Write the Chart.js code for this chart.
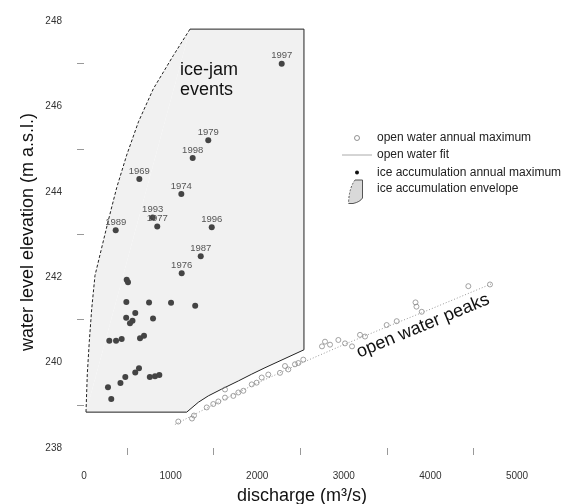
<!DOCTYPE html>
<html>
<head>
<meta charset="utf-8">
<script src="https://cdn.jsdelivr.net/npm/chart.js@4.4.0/dist/chart.umd.min.js"></script>
<style>
  body { margin: 0; background: #fff; }
  canvas { display: block; }
</style>
</head>
<body>
<canvas id="chart" width="564" height="504"></canvas>
<script>
// tick labels (unlabelled tick marks sit halfway between them)
const xLabelValues = [0, 1000, 2000, 3000, 4000, 5000];
const yLabelValues = [238, 240, 242, 244, 246, 248];

// ice accumulation annual maximum
const iceX = [2283, 1435, 1255, 639, 1124, 793, 846, 366, 1475, 1348, 1128,
  493, 508, 489, 751, 1005, 1284, 592, 487, 560, 531, 797,
  292, 370, 435, 647, 693, 635, 592, 477, 421, 277, 315, 760, 820, 870];
const iceY = [247.0, 245.21, 244.79, 244.30, 243.95, 243.40, 243.19, 243.10, 243.17, 242.49, 242.09,
  241.94, 241.88, 241.42, 241.41, 241.40, 241.33, 241.16, 241.05, 240.98, 240.92, 241.03,
  240.51, 240.51, 240.55, 240.57, 240.63, 239.87, 239.77, 239.66, 239.52, 239.42, 239.15, 239.66, 239.68, 239.71];
const iceYears = ['1997', '1979', '1998', '1969', '1974', '1993', '1977', '1989', '1996', '1987', '1976'];

// open water annual maximum
const openX = [1089, 1247, 1270, 1417, 1493, 1551, 1628, 1628, 1724, 1782, 1840, 1937, 1994, 2052,
  2128, 2263, 2321, 2359, 2436, 2475, 2532, 2748, 2783, 2841, 2937, 3014, 3095, 3187, 3245,
  3495, 3611, 3828, 3839, 3900, 4438, 4688];
const openY = [238.62, 238.69, 238.76, 238.95, 239.03, 239.09, 239.37, 239.18, 239.22, 239.30, 239.34,
  239.49, 239.53, 239.65, 239.72, 239.76, 239.92, 239.84, 239.96, 239.99, 240.07, 240.38, 240.49,
  240.42, 240.53, 240.45, 240.38, 240.65, 240.61, 240.88, 240.97, 241.41, 241.31, 241.19, 241.79, 241.83];

// open water fit
const fitX = [1050, 1500, 2000, 2500, 3000, 3500, 4000, 4700];
const fitY = [238.55, 239.02, 239.52, 239.98, 240.42, 240.84, 241.25, 241.84];

// ice accumulation envelope (closed outline, left curve is dashed)
const envX = [23, 1186, 1320, 1435, 1590, 1782, 1937, 2090, 2540, 2540, 1224,
  1031, 800, 629, 493, 378, 281, 196, 127, 89, 61, 38, 23];
const envY = [238.84, 238.84, 239.07, 239.22, 239.38, 239.57, 239.73, 239.88, 240.30, 247.81, 247.81,
  247.19, 246.41, 245.64, 244.86, 244.10, 243.33, 242.62, 242.04, 241.26, 240.49, 239.73, 238.84];
const envDashFrom = 10;

const pts = (xs, ys) => xs.map((x, i) => ({ x: x, y: ys[i] }));
const FONT = '"Liberation Sans", Arial, sans-serif';

const textPlugin = {
    id: 'texts',
    afterDatasetsDraw(chart) {
        const ctx = chart.ctx;
        const meta = chart.getDatasetMeta(3);
        ctx.save();
        ctx.fillStyle = '#555';
        ctx.font = '9.5px ' + FONT;
        ctx.textAlign = 'center';
        ctx.textBaseline = 'middle';
        iceYears.forEach((yr, i) => {
            const p = meta.data[i];
            ctx.fillText(yr, p.x, p.y - 8);
        });
        ctx.restore();
    },
    afterDraw(chart) {
        const ctx = chart.ctx;
        ctx.save();
        ctx.fillStyle = '#111';

        // axis titles
        ctx.font = '18px ' + FONT;
        ctx.textAlign = 'center';
        ctx.textBaseline = 'alphabetic';
        ctx.fillText('discharge (m\u00b3/s)', 302, 501);
        ctx.save();
        ctx.translate(33, 232);
        ctx.rotate(-Math.PI / 2);
        ctx.fillText('water level elevation (m a.s.l.)', 0, 0);
        ctx.restore();

        // annotations
        ctx.textAlign = 'left';
        ctx.fillText('ice-jam', 180, 75);
        ctx.fillText('events', 180, 95);
        ctx.save();
        ctx.translate(423, 326);
        ctx.rotate(-22.5 * Math.PI / 180);
        ctx.textAlign = 'center';
        ctx.textBaseline = 'middle';
        ctx.fillText('open water peaks', 0, 0);
        ctx.restore();

        // legend
        ctx.font = '12px ' + FONT;
        ctx.textBaseline = 'middle';
        ctx.fillStyle = '#222';
        ctx.fillText('open water annual maximum', 377, 138);
        ctx.fillText('open water fit', 377, 155);
        ctx.fillText('ice accumulation annual maximum', 377, 173);
        ctx.fillText('ice accumulation envelope', 377, 189);

        ctx.strokeStyle = '#777';
        ctx.lineWidth = 0.8;
        ctx.beginPath();
        ctx.arc(357, 138, 2.5, 0, Math.PI * 2);
        ctx.stroke();

        ctx.strokeStyle = '#aaa';
        ctx.lineWidth = 1;
        ctx.beginPath();
        ctx.moveTo(342, 155);
        ctx.lineTo(372, 155);
        ctx.stroke();

        ctx.fillStyle = '#111';
        ctx.beginPath();
        ctx.arc(357, 172.5, 2, 0, Math.PI * 2);
        ctx.fill();

        ctx.fillStyle = '#d9d9d9';
        ctx.strokeStyle = '#555';
        ctx.beginPath();
        ctx.moveTo(355, 180);
        ctx.lineTo(362.5, 180);
        ctx.lineTo(362.5, 198);
        ctx.quadraticCurveTo(360, 202, 353, 203.5);
        ctx.lineTo(348.5, 203.5);
        ctx.quadraticCurveTo(349, 188, 355, 180);
        ctx.fill();
        ctx.beginPath();
        ctx.moveTo(348.5, 203.5);
        ctx.lineTo(353, 203.5);
        ctx.quadraticCurveTo(360, 202, 362.5, 198);
        ctx.lineTo(362.5, 180);
        ctx.lineTo(355, 180);
        ctx.stroke();
        ctx.setLineDash([2, 1.5]);
        ctx.beginPath();
        ctx.moveTo(355, 180);
        ctx.quadraticCurveTo(349, 188, 348.5, 203.5);
        ctx.stroke();
        ctx.restore();
    }
};

new Chart(document.getElementById('chart'), {
    type: 'scatter',
    data: {
        datasets: [
            {
                label: 'ice accumulation envelope',
                data: pts(envX, envY),
                showLine: true,
                fill: 'shape',
                backgroundColor: '#f1f1f1',
                borderColor: '#222',
                borderWidth: 1,
                pointRadius: 0,
                segment: {
                    borderDash: ctx => ctx.p0DataIndex >= envDashFrom ? [3, 2] : undefined
                },
                order: 4
            },
            {
                label: 'open water fit',
                data: pts(fitX, fitY),
                showLine: true,
                borderColor: '#999',
                borderWidth: 1,
                borderDash: [1, 2],
                pointRadius: 0,
                order: 3
            },
            {
                label: 'open water annual maximum',
                data: pts(openX, openY),
                pointRadius: 2.5,
                borderColor: '#8a8a8a',
                borderWidth: 0.8,
                backgroundColor: 'rgba(0,0,0,0)',
                order: 2
            },
            {
                label: 'ice accumulation annual maximum',
                data: pts(iceX, iceY),
                pointRadius: 3,
                borderWidth: 0,
                backgroundColor: '#444',
                order: 1
            }
        ]
    },
    options: {
        responsive: false,
        animation: false,
        devicePixelRatio: 1,
        layout: { padding: { left: 0, right: 47, top: 15, bottom: 0 } },
        plugins: { legend: { display: false }, tooltip: { enabled: false } },
        scales: {
            x: {
                type: 'linear',
                min: 0,
                max: 5000,
                afterFit: s => { s.height = 56; },
                border: { display: false },
                grid: {
                    drawOnChartArea: false,
                    drawTicks: true,
                    tickLength: 7,
                    color: c => (c.tick && !xLabelValues.includes(c.tick.value)) ? '#999' : 'rgba(0,0,0,0)'
                },
                ticks: {
                    stepSize: 500,
                    autoSkip: false,
                    maxRotation: 0,
                    padding: 15,
                    color: '#333',
                    font: { family: FONT, size: 10 },
                    callback: v => xLabelValues.includes(v) ? String(v) : ''
                }
            },
            y: {
                min: 238,
                max: 248,
                afterFit: s => { s.width = 84; },
                border: { display: false },
                grid: {
                    drawOnChartArea: false,
                    drawTicks: true,
                    tickLength: 7,
                    color: c => (c.tick && !yLabelValues.includes(c.tick.value)) ? '#999' : 'rgba(0,0,0,0)'
                },
                ticks: {
                    stepSize: 1,
                    autoSkip: false,
                    padding: 15,
                    color: '#333',
                    font: { family: FONT, size: 10 },
                    callback: v => yLabelValues.includes(v) ? String(v) : ''
                }
            }
        }
    },
    plugins: [textPlugin]
});
</script>
</body>
</html>
